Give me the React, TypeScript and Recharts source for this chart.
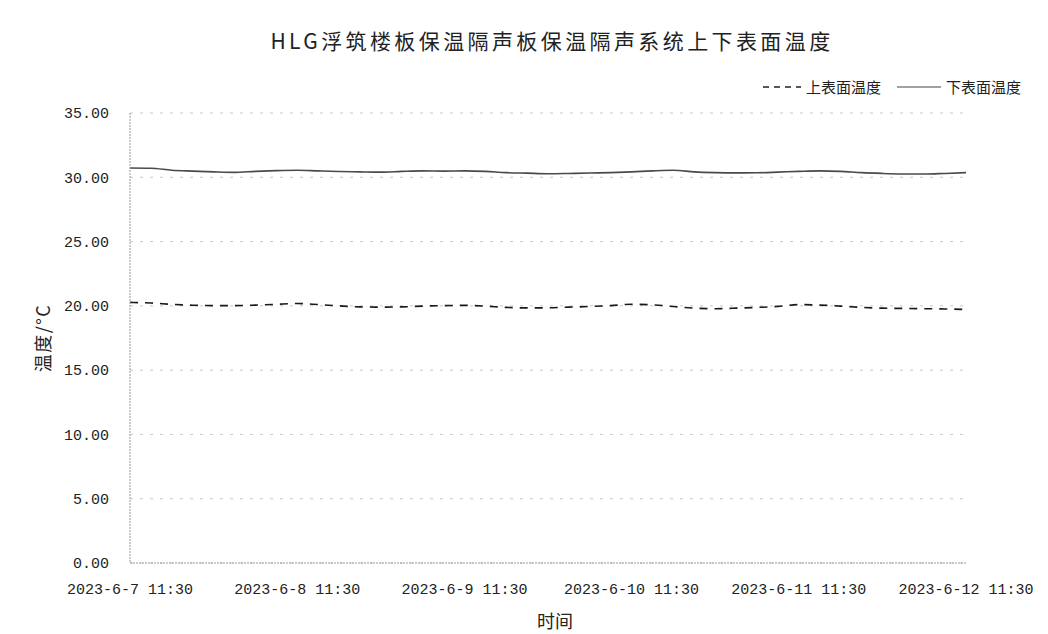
import React from 'react';
import { LineChart, Line, XAxis, YAxis, CartesianGrid } from 'recharts';

const hours = [0, 3, 6, 9, 12, 15, 18, 21, 24, 27, 30, 33, 36, 39, 42, 45, 48, 51, 54, 57, 60, 63, 66, 69, 72, 75, 78, 81, 84, 87, 90, 93, 96, 99, 102, 105, 108, 111, 114, 117, 120];

const upperTemp = [20.27, 20.22, 20.12, 20.05, 20.02, 20.02, 20.06, 20.12, 20.18, 20.1, 20.0, 19.92, 19.9, 19.92, 19.98, 20.02, 20.04, 19.98, 19.88, 19.84, 19.85, 19.9, 19.95, 20.02, 20.12, 20.08, 19.95, 19.82, 19.78, 19.82, 19.88, 19.96, 20.1, 20.06, 19.98, 19.88, 19.82, 19.8, 19.78, 19.76, 19.72];

const lowerTemp = [30.72, 30.7, 30.55, 30.48, 30.42, 30.38, 30.46, 30.52, 30.55, 30.5, 30.45, 30.42, 30.4, 30.46, 30.5, 30.48, 30.5, 30.46, 30.36, 30.32, 30.28, 30.3, 30.33, 30.36, 30.42, 30.5, 30.55, 30.42, 30.36, 30.34, 30.35, 30.4, 30.46, 30.5, 30.46, 30.36, 30.3, 30.26, 30.25, 30.3, 30.36];

const xTicks = [0, 24, 48, 72, 96, 120];
const xTickLabels = ['2023-6-7 11:30', '2023-6-8 11:30', '2023-6-9 11:30', '2023-6-10 11:30', '2023-6-11 11:30', '2023-6-12 11:30'];
const yTicks = [0, 5, 10, 15, 20, 25, 30, 35];

const seriesNames = ['上表面温度', '下表面温度'];
const title = 'HLG浮筑楼板保温隔声板保温隔声系统上下表面温度';

const data = hours.map((h, i) => ({ h, upper: upperTemp[i], lower: lowerTemp[i] }));

const MONO = '"Liberation Mono", "DejaVu Sans Mono", monospace';
const CJK = '"Noto Sans CJK SC", "Noto Sans", sans-serif';

const LegendContent = () => (
  <div style={{ display: 'flex', alignItems: 'center', fontFamily: CJK, fontSize: 15, color: '#222', whiteSpace: 'nowrap', lineHeight: '20px' }}>
    <svg width={40} height={10} style={{ marginRight: 4 }}>
      <line x1={1} y1={5} x2={39} y2={5} stroke="#222" strokeWidth={1.5} strokeDasharray="6 5" />
    </svg>
    <span>{seriesNames[0]}</span>
    <svg width={44} height={10} style={{ marginLeft: 16, marginRight: 5 }}>
      <line x1={0} y1={5} x2={44} y2={5} stroke="#444" strokeWidth={1.2} />
    </svg>
    <span>{seriesNames[1]}</span>
  </div>
);

export default function App() {
  return (
    <div style={{ position: 'absolute', left: 0, top: 0, width: 1048, height: 634, background: '#fff' }}>
      <div
        style={{
          position: 'absolute',
          left: 0,
          width: 1104,
          top: 24,
          textAlign: 'center',
          fontFamily: CJK,
          fontSize: 21,
          letterSpacing: 3.4,
          color: '#222',
          lineHeight: '32px',
          whiteSpace: 'nowrap',
        }}
      >
        {title}
      </div>
      <div style={{ position: 'absolute', left: 762, top: 77 }}>
        <LegendContent />
      </div>
      <LineChart width={1048} height={634} data={data} margin={{ top: 113, right: 82, bottom: 0, left: 0 }}>
        <CartesianGrid horizontal vertical={false} stroke="#c8c8c8" strokeDasharray="3 7" />
        <XAxis
          dataKey="h"
          type="number"
          domain={[0, 120]}
          ticks={xTicks}
          tickFormatter={(v: number) => xTickLabels[xTicks.indexOf(v)]}
          height={71}
          tickLine={false}
          axisLine={{ stroke: '#999', strokeDasharray: '2 1' }}
          tick={{ fill: '#222', fontFamily: MONO, fontSize: 15 }}
          tickMargin={14}
          interval={0}
          label={{
            content: (p: any) => {
              const vb = p.viewBox || { x: 130, width: 836, y: 563 };
              return (
                <text x={vb.x + vb.width / 2 + 7} y={628} textAnchor="middle" fontFamily={CJK} fontSize={18} fill="#222">
                  时间
                </text>
              );
            },
          }}
        />
        <YAxis
          type="number"
          domain={[0, 35]}
          ticks={yTicks}
          width={130}
          tickLine={false}
          axisLine={{ stroke: '#999', strokeDasharray: '2 1' }}
          tickFormatter={(v: number) => v.toFixed(2)}
          tick={{ fill: '#222', fontFamily: MONO, fontSize: 15 }}
          tickMargin={15}
          label={{
            content: (p: any) => {
              const vb = p.viewBox || { y: 113, height: 450 };
              const cy = vb.y + vb.height / 2;
              return (
                <text
                  x={42}
                  y={cy}
                  transform={`rotate(-90 42 ${cy})`}
                  textAnchor="middle"
                  dominantBaseline="central"
                  fontFamily={CJK}
                  fontSize={18}
                  letterSpacing={1.5}
                  fill="#222"
                >
                  温度/°C
                </text>
              );
            },
          }}
        />
        <Line
          type="monotone"
          dataKey="upper"
          name={seriesNames[0]}
          stroke="#1a1a1a"
          strokeWidth={1.6}
          strokeDasharray="8 7"
          dot={false}
          isAnimationActive={false}
        />
        <Line
          type="monotone"
          dataKey="lower"
          name={seriesNames[1]}
          stroke="#4a4a4a"
          strokeWidth={1.6}
          dot={false}
          isAnimationActive={false}
        />
      </LineChart>
    </div>
  );
}
